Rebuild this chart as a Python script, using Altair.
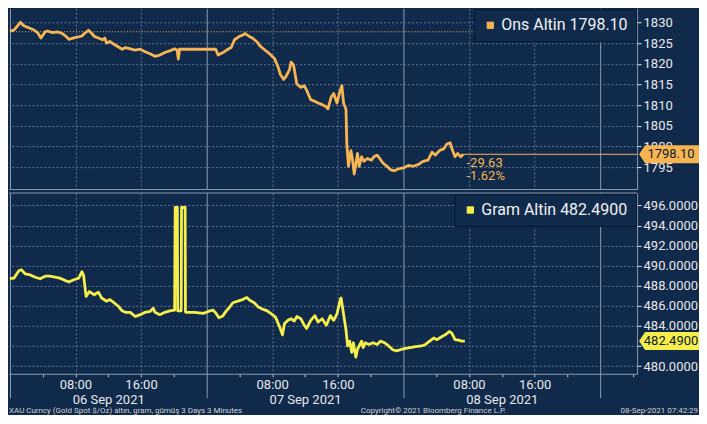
import json
import altair as alt
import pandas as pd

# ---------------- data ----------------
# time axis: hours since 06 Sep 2021 00:00
ons_name = "Ons Altin"
ons_hours = [0.0, 0.5, 1.3, 1.7, 2.3, 2.9, 3.4, 3.8, 4.3, 4.6, 5.2, 5.8, 6.4, 6.8, 7.2, 7.7, 8.2, 8.8, 9.1, 9.6,
             10.0, 10.3, 10.8, 11.3, 11.6, 11.8, 12.2, 12.7, 13.2, 13.7, 14.1, 14.7, 15.3, 15.9, 16.5, 17.1, 17.7,
             18.3, 18.9, 19.5, 20.1, 20.4, 20.55, 20.7, 25.1, 25.2, 25.4, 26.0, 26.6, 27.0, 27.4, 28.0, 28.4, 28.7,
             29.2, 29.6, 30.2, 30.5, 31.0, 31.5, 31.9, 32.3, 32.7, 33.0, 33.4, 33.7, 34.1, 34.3, 34.6, 34.8, 35.0,
             35.5, 35.9, 36.2, 36.7, 37.2, 37.6, 38.1, 38.5, 38.8, 39.2, 39.5, 39.9, 40.3, 40.5, 40.7, 41.0, 41.1,
             41.3, 41.6, 41.8, 42.0, 42.4, 42.6, 42.9, 43.2, 43.6, 44.1, 44.4, 44.8, 45.1, 45.5, 46.0, 46.4, 46.9,
             47.4, 48.0, 48.6, 49.2, 49.8, 50.4, 51.0, 51.5, 51.9, 52.4, 52.9, 53.3, 53.7, 54.0, 54.3, 54.6, 55.0,
             55.3]
ons_values = [1827.9, 1828.1, 1830.0, 1829.2, 1828.7, 1828.2, 1827.5, 1826.2, 1827.7, 1827.9, 1827.5, 1827.7,
              1827.3, 1826.7, 1825.9, 1826.2, 1826.4, 1826.7, 1827.3, 1828.1, 1827.3, 1826.6, 1826.2, 1825.8,
              1826.2, 1825.0, 1825.4, 1824.7, 1824.1, 1823.5, 1823.9, 1823.6, 1823.3, 1823.5, 1822.9, 1822.4,
              1821.8, 1822.1, 1822.7, 1823.1, 1823.6, 1823.3, 1821.1, 1823.5, 1823.5, 1823.1, 1822.1, 1822.7,
              1823.5, 1823.9, 1825.8, 1826.6, 1826.9, 1827.3, 1826.6, 1826.2, 1825.2, 1824.3, 1823.5, 1822.7,
              1822.0, 1821.2, 1819.3, 1817.4, 1816.2, 1817.0, 1818.5, 1820.4, 1819.7, 1817.4, 1815.1, 1814.3,
              1814.7, 1813.6, 1811.3, 1810.9, 1810.5, 1810.1, 1809.7, 1809.1, 1812.0, 1812.8, 1810.5, 1813.6,
              1814.7, 1810.5, 1809.0, 1800.6, 1795.2, 1799.0, 1796.7, 1793.3, 1798.3, 1795.2, 1797.5, 1796.4,
              1797.1, 1796.7, 1797.5, 1797.9, 1797.1, 1796.0, 1795.2, 1794.4, 1794.1, 1794.6, 1794.8, 1795.4,
              1795.2, 1795.6, 1796.4, 1796.7, 1798.6, 1797.9, 1799.0, 1799.4, 1800.6, 1800.9, 1799.0, 1797.5,
              1798.3, 1797.5, 1798.1]
ons_last = 1798.10
ons_prev_close = 1827.73
ons_change_text = ["-29.63", "-1.62%"]
ons_change_pos = [1796.1, 1792.8]

gram_name = "Gram Altin"
gram_hours = [0.0, 0.5, 1.1, 1.4, 1.9, 2.5, 3.1, 3.7, 4.3, 4.9, 5.5, 6.1, 6.7, 7.2, 7.8, 8.4, 8.8, 9.0, 9.3, 9.7,
              10.3, 10.8, 11.2, 11.8, 12.2, 12.7, 13.2, 13.7, 14.1, 14.7, 15.3, 15.9, 16.5, 17.1, 17.5, 17.7, 18.3,
              18.9, 19.5, 20.1, 20.17, 20.43, 20.47, 20.9, 20.94, 21.38, 21.42, 21.5, 22.5, 23.6, 24.2, 24.8, 25.2,
              25.5, 26.0, 26.4, 26.7, 27.2, 27.8, 28.4, 28.9, 29.3, 29.8, 30.3, 30.8, 31.4, 31.9, 32.4, 32.9, 33.25,
              33.5, 33.9, 34.3, 34.7, 35.0, 35.5, 35.9, 36.2, 36.7, 37.2, 37.6, 38.1, 38.6, 39.1, 39.5, 39.9, 40.3,
              40.4, 40.7, 41.0, 41.2, 41.45, 41.7, 41.9, 42.2, 42.4, 42.9, 43.1, 43.35, 43.8, 44.3, 44.8, 45.2,
              45.7, 46.2, 46.7, 47.1, 47.6, 48.1, 48.8, 49.5, 50.2, 50.7, 51.2, 51.7, 52.1, 52.6, 53.1, 53.6, 53.9,
              54.3, 54.8, 55.1, 55.5]
gram_values = [488.70, 488.76, 489.49, 489.59, 489.18, 489.08, 488.85, 488.70, 488.95, 488.95, 488.85, 488.76,
               488.54, 488.37, 488.60, 488.76, 489.40, 489.01, 486.94, 487.42, 487.10, 487.36, 486.78, 486.46,
               486.62, 486.31, 485.98, 485.50, 485.35, 485.35, 484.93, 485.12, 485.35, 485.44, 485.76, 485.35,
               485.12, 485.35, 485.50, 485.57, 495.80, 495.80, 485.50, 485.50, 495.80, 495.80, 485.40, 485.35,
               485.35, 485.25, 485.44, 485.57, 485.19, 484.80, 485.02, 485.50, 485.76, 486.31, 486.46, 486.62,
               486.84, 486.53, 486.31, 485.89, 485.67, 485.50, 485.19, 484.87, 483.91, 483.11, 484.23, 484.55,
               484.71, 484.49, 484.93, 484.71, 484.07, 483.75, 484.55, 485.02, 484.39, 484.71, 484.07, 485.02,
               484.55, 485.19, 486.62, 486.78, 485.19, 483.59, 482.00, 482.48, 481.36, 482.32, 480.88, 481.67,
               482.48, 481.84, 482.32, 482.15, 482.32, 482.15, 482.48, 482.32, 482.00, 481.62, 481.52, 481.62,
               481.74, 481.84, 481.93, 482.00, 482.15, 482.48, 482.79, 482.63, 482.89, 483.11, 483.44, 483.27,
               482.63, 482.57, 482.48, 482.49]
gram_last = 482.49

day_labels = ["06 Sep 2021", "07 Sep 2021", "08 Sep 2021"]
hour_labels = {8: "08:00", 16: "16:00"}
x_tick_hours = [0, 4, 8, 12, 16, 20, 24, 28, 32, 36, 40, 44, 48, 52, 56, 60, 64, 68, 72, 76]
ons_ticks = [1795, 1800, 1805, 1810, 1815, 1820, 1825, 1830]
gram_ticks = [480, 482, 484, 486, 488, 490, 492, 494, 496]
x_domain = [-0.1, 76.5]
ons_domain = [1789.7, 1833.4]
gram_domain = [479.23, 497.24]

footer_left = "XAU Curncy (Gold Spot  $/Oz) altın, gram, gümüş 3 Days 3 Minutes"
footer_mid = "Copyright\u00a9 2021 Bloomberg Finance L.P."
footer_right = "08-Sep-2021 07:42:29"

# ---------------- style ----------------
BG = "#102a4c"
ORANGE = "#f7b452"
YELLOW = "#f5ee4b"
GRID = "#5f7392"
SEP = "#8e9bb0"
TEXT = "#e8e8e8"
FONT = "Roboto"
W = 629
H1 = 181
H2 = 181

x_scale = alt.Scale(domain=x_domain, nice=False, zero=False)

grid_props = dict(
    grid=True,
    gridDash={"condition": {"test": "datum.value % 24 == 0", "value": []}, "value": [2, 2]},
    gridOpacity={"condition": {"test": "datum.value % 8 == 0", "value": 1}, "value": 0},
    gridColor={"condition": {"test": "datum.value % 24 == 0", "value": SEP}, "value": GRID},
    gridWidth=1,
)

day_expr = json.dumps(day_labels)
label_expr = (
    f"datum.value % 24 == 8 ? '{hour_labels[8]}' : "
    f"datum.value % 24 == 16 ? '{hour_labels[16]}' : "
    f"datum.value % 24 == 12 ? ['', {day_expr}[floor(datum.value / 24)]] : ''"
)

x_axis_top = alt.Axis(values=x_tick_hours, labels=False, ticks=False, domain=True,
                      domainColor=SEP, title=None, **grid_props)
x_axis_bottom = alt.Axis(
    values=x_tick_hours, labelExpr=label_expr, labelOverlap=False, labelFlush=False, labelBound=False,
    labelColor=TEXT, labelFontSize=13, labelFont=FONT, labelLineHeight=15, labelPadding=2,
    tickSize={"condition": {"test": "datum.value % 24 == 0", "value": 24}, "value": 3},
    tickColor={"condition": {"test": "datum.value % 24 == 0", "value": SEP}, "value": "#c0c8d4"},
    domain=True, domainColor=SEP, title=None, **grid_props,
)


def y_axis(values, fmt):
    return alt.Axis(orient="right", values=values, format=fmt, grid=True, gridDash=[2, 2], gridColor=GRID,
                    domainColor=SEP, tickColor=TEXT, tickSize=4, labelColor=TEXT, labelFontSize=13,
                    labelFont=FONT, labelPadding=2, labelOverlap=False, labelBound=False, title=None)


def legend(color):
    return alt.Legend(orient="top-right", offset=1, title=None, symbolType="square", symbolSize=40,
                      symbolFillColor=color, symbolStrokeColor=color, symbolStrokeWidth=1, symbolOpacity=1,
                      labelFontSize=16, labelColor="#f2f2f2", labelFont=FONT,
                      fillColor=BG, strokeColor="#08182e", padding=8, labelOffset=3)


box_shape = "M -1 0 L -0.8 -0.3 L 1 -0.3 L 1 0.3 L -0.8 0.3 Z"


def panel(hours, values, name, last, fmt_last, color, domain, ticks, fmt, x_axis):
    label = f"{name} {fmt_last}"
    df = pd.DataFrame({"hour": hours, "value": values, "series": label})
    y_scale = alt.Scale(domain=domain, nice=False, zero=False)
    y_ax = y_axis(ticks, fmt)
    line = alt.Chart(df).mark_line(strokeWidth=2.8, strokeJoin="round").encode(
        x=alt.X("hour:Q", scale=x_scale, axis=x_axis),
        y=alt.Y("value:Q", scale=y_scale, axis=y_ax),
        color=alt.Color("series:N", scale=alt.Scale(domain=[label], range=[color]), legend=legend(color)),
    )
    box_df = pd.DataFrame({"value": [last], "label": [fmt_last]})
    box = alt.Chart(box_df).mark_point(shape=box_shape, size=3600, filled=True, fill=color,
                                       opacity=1, strokeWidth=0).encode(
        x=alt.value(W + 32), y=alt.Y("value:Q", scale=y_scale, axis=y_ax))
    box_text = alt.Chart(box_df).mark_text(color="#0c1a2e", fontSize=13, font=FONT, align="center").encode(
        x=alt.value(W + 34), y=alt.Y("value:Q", scale=y_scale, axis=y_ax), text="label:N")
    return line, box, box_text, y_scale, y_ax


# ---- top panel ----
ons_line, ons_box, ons_box_text, ons_y, ons_ax = panel(
    ons_hours, ons_values, ons_name, ons_last, f"{ons_last:.2f}", ORANGE, ons_domain, ons_ticks, "d",
    x_axis_top)
prev_close = alt.Chart(pd.DataFrame({"value": [ons_prev_close]})).mark_rule(
    color=ORANGE, strokeDash=[1, 2], strokeWidth=1).encode(y=alt.Y("value:Q", scale=ons_y, axis=ons_ax))
last_line = alt.Chart(pd.DataFrame({"hour": [ons_hours[-1]], "end": [x_domain[1]], "value": [ons_last]})).mark_rule(
    color=ORANGE, strokeWidth=1).encode(x=alt.X("hour:Q", scale=x_scale, axis=x_axis_top), x2="end:Q",
                                        y=alt.Y("value:Q", scale=ons_y, axis=ons_ax))
change = alt.Chart(pd.DataFrame({"hour": [ons_hours[-1] + 0.4] * 2, "value": ons_change_pos,
                                 "text": ons_change_text})).mark_text(
    color=ORANGE, fontSize=13, font=FONT, align="left").encode(
    x=alt.X("hour:Q", scale=x_scale, axis=x_axis_top), y=alt.Y("value:Q", scale=ons_y, axis=ons_ax),
    text="text:N")

top = alt.layer(ons_line, prev_close, last_line, change, ons_box, ons_box_text).properties(width=W, height=H1)

# ---- bottom panel ----
gram_line, gram_box, gram_box_text, gram_y, gram_ax = panel(
    gram_hours, gram_values, gram_name, gram_last, f"{gram_last:.4f}", YELLOW, gram_domain, gram_ticks, ".4f",
    x_axis_bottom)
top_edge = alt.Chart(pd.DataFrame({"a": [0]})).mark_rule(color=SEP, strokeWidth=1).encode(y=alt.value(0))
foot_df = pd.DataFrame({"a": [0]})
FOOT_Y = H2 + 37
foot1 = alt.Chart(foot_df).mark_text(text=footer_left, color="#d0d0d0", fontSize=8, font=FONT,
                                     align="left", baseline="middle").encode(
    x=alt.value(0), y=alt.value(FOOT_Y))
foot2 = alt.Chart(foot_df).mark_text(text=footer_mid, color="#d0d0d0", fontSize=8, font=FONT,
                                     align="center", baseline="middle").encode(
    x=alt.value(425), y=alt.value(FOOT_Y))
foot3 = alt.Chart(foot_df).mark_text(text=footer_right, color="#d0d0d0", fontSize=8, font=FONT,
                                     align="right", baseline="middle").encode(
    x=alt.value(W + 61), y=alt.value(FOOT_Y))

bottom = alt.layer(gram_line, top_edge, gram_box, gram_box_text, foot1, foot2, foot3).properties(
    width=W, height=H2)

chart = alt.vconcat(top, bottom, spacing=3).resolve_scale(
    color="independent", y="independent", x="independent"
).resolve_legend(color="independent").properties(
    padding={"left": 0, "top": 0, "right": 0, "bottom": 0}
).configure(background=BG).configure_view(stroke=None)

chart.save("out.html", embed_options={"renderer": "svg", "actions": False})
